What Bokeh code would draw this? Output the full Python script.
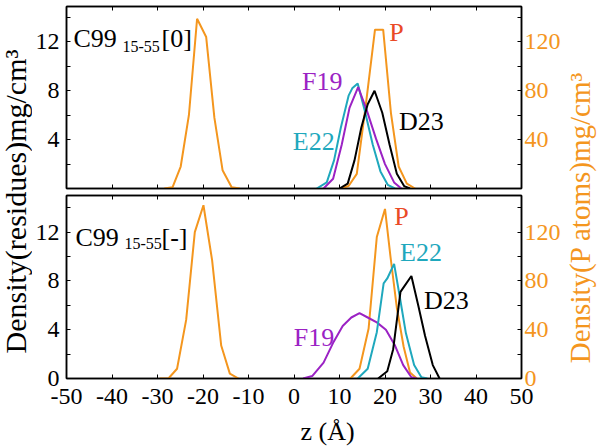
import math
from bokeh.plotting import figure
from bokeh.models import Range1d, LinearAxis, FixedTicker, Label
from bokeh.layouts import row, column
from bokeh.embed import file_html
from bokeh.resources import INLINE

FONT = "Liberation Serif"
ORANGE = "#f4961e"
CYAN = "#1fa8bd"
PURPLE = "#9b22c4"
BLACK = "#000000"
PRED = "#ea4a26"

# ---------------- data ----------------
x_ticks = [-50, -40, -30, -20, -10, 0, 10, 20, 30, 40, 50]

# top panel  C99(15-55)[0]
top_p_left_z = [-28.5, -26.7, -24.9, -23.1, -21.3, -19.3, -17.5, -15.7, -13.7, -11.9]
top_p_left_v = [0, 1, 18, 60, 139, 124, 58, 15, 1, 0]
top_p_right_z = [10.2, 12.0, 13.8, 15.9, 17.8, 19.6, 21.3, 23.0, 24.8, 26.6]
top_p_right_v = [0, 2, 12, 72, 130, 130, 62, 18, 4, 0]
top_e22_z = [5.0, 7.2, 8.8, 10.3, 12.0, 12.8, 14.0, 15.6, 17.3, 19.0, 20.6, 22.2]
top_e22_v = [0, 0.5, 2.3, 5.0, 7.6, 8.2, 8.6, 6.3, 3.6, 1.4, 0.3, 0]
top_f19_z = [6.5, 8.6, 10.5, 12.2, 14.1, 16.0, 18.0, 20.0, 22.0, 23.6]
top_f19_v = [0, 0.8, 3.6, 6.6, 8.3, 6.4, 4.1, 2.0, 0.5, 0]
top_d23_z = [10.0, 11.8, 13.3, 14.8, 16.2, 17.7, 19.4, 21.0, 22.6, 24.2, 25.5]
top_d23_v = [0, 0.4, 2.3, 5.0, 6.9, 8.0, 6.2, 3.6, 1.2, 0.2, 0]

# bottom panel  C99(15-55)[-]
bot_p_left_z = [-29.5, -27.6, -25.7, -23.7, -21.8, -19.9, -18.0, -16.0, -14.1, -12.2]
bot_p_left_v = [0, 0, 8, 48, 120, 142, 97, 27, 4, 0]
bot_p_right_z = [12.4, 14.4, 16.4, 18.2, 20.0, 21.2, 22.6, 24.1, 25.5, 27.0]
bot_p_right_v = [0, 8, 41, 116, 139, 100, 58, 26, 5, 0]
bot_e22_z = [14.0, 16.2, 18.2, 19.7, 20.5, 22.0, 23.2, 24.6, 26.4, 28.0, 29.3]
bot_e22_v = [0, 0.8, 3.8, 7.8, 8.2, 9.4, 6.8, 3.7, 1.1, 0.1, 0]
bot_d23_z = [18.5, 20.5, 21.8, 23.4, 25.8, 27.3, 28.8, 30.5, 32.0]
bot_d23_v = [0, 0.6, 2.4, 7.1, 8.4, 6.0, 3.5, 1.1, 0]
bot_f19_z = [2.0, 4.0, 6.5, 8.7, 10.7, 12.6, 14.4, 16.2, 18.2, 20.2, 22.2, 24.0, 25.8, 27.0]
bot_f19_v = [0, 0.2, 1.3, 3.0, 4.3, 5.0, 5.35, 5.0, 4.6, 4.0, 2.7, 1.1, 0.1, 0]

left_ticks_top = [4, 8, 12]
left_ticks_bot = [0, 4, 8, 12]
left_minor = [2, 6, 10, 14]
right_ticks_top = [40, 80, 120]
right_ticks_bot = [0, 40, 80, 120]
right_minor = [20, 60, 100, 140]
x_tick_labels = {t: str(t) for t in x_ticks}

TICK_FS = "24px"
LAB_FS = "26px"
MAIN_W = 531


def make_panel(height, top_b, bot_b, y_end, p_end, lticks, rticks, show_x):
    p = figure(width=MAIN_W, height=height, x_range=Range1d(-50, 50),
               y_range=Range1d(0, y_end), output_backend="svg",
               toolbar_location=None, x_axis_location=None, y_axis_location=None,
               min_border_left=31, min_border_right=40,
               min_border_top=top_b, min_border_bottom=bot_b)
    p.extra_y_ranges = {"p": Range1d(0, p_end)}
    p.grid.visible = False
    p.outline_line_color = BLACK
    p.outline_line_width = 1.5
    p.background_fill_color = "white"
    p.border_fill_color = "white"

    def style(ax, labels=True):
        ax.axis_line_color = BLACK
        ax.axis_line_width = 1.5
        ax.major_tick_in = 4
        ax.major_tick_out = 0
        ax.minor_tick_in = 4
        ax.minor_tick_out = 0
        ax.major_tick_line_color = BLACK
        ax.minor_tick_line_color = BLACK
        ax.major_label_text_font = FONT
        if labels:
            ax.major_label_text_font_size = TICK_FS
            ax.major_label_text_color = BLACK
        else:
            ax.major_label_text_font_size = "1px"
            ax.major_label_text_color = None
            ax.major_label_standoff = 0

    left = LinearAxis(ticker=FixedTicker(ticks=lticks, minor_ticks=left_minor))
    style(left)
    left.major_label_standoff = 7
    p.add_layout(left, "left")

    right = LinearAxis(y_range_name="p",
                       ticker=FixedTicker(ticks=rticks, minor_ticks=right_minor))
    style(right)
    right.major_label_standoff = 3
    right.major_label_text_color = ORANGE
    p.add_layout(right, "right")

    below = LinearAxis(ticker=FixedTicker(ticks=x_ticks),
                       major_label_overrides=x_tick_labels)
    style(below, labels=show_x)
    if show_x:
        below.major_label_standoff = 10
    p.add_layout(below, "below")

    above = LinearAxis(ticker=FixedTicker(ticks=x_ticks))
    style(above, labels=False)
    p.add_layout(above, "above")
    return p


def add_label(p, x, y, text, color, size=LAB_FS, xu="data", yu="data",
              align="center", baseline="middle"):
    p.add_layout(Label(x=x, y=y, x_units=xu, y_units=yu, text=text,
                       text_font=FONT, text_font_size=size, text_color=color,
                       text_align=align, text_baseline=baseline))


# ---------------- top panel ----------------
top = make_panel(191, 6, 3, 14.9, 149.0, left_ticks_top, right_ticks_top, False)
top.line(top_p_left_z, top_p_left_v, y_range_name="p", line_color=ORANGE, line_width=2)
top.line(top_p_right_z, top_p_right_v, y_range_name="p", line_color=ORANGE, line_width=2)
top.line(top_e22_z, top_e22_v, line_color=CYAN, line_width=2)
top.line(top_f19_z, top_f19_v, line_color=PURPLE, line_width=2)
top.line(top_d23_z, top_d23_v, line_color=BLACK, line_width=2)
add_label(top, 22.5, 12.8, "P", PRED)
add_label(top, 6.2, 8.8, "F19", PURPLE)
add_label(top, 4.35, 3.85, "E22", CYAN)
add_label(top, 28.0, 5.5, "D23", BLACK)
add_label(top, 7, 150, "C99", BLACK, "26px", "screen", "screen", "left", "alphabetic")
add_label(top, 56, 142, "15-55", BLACK, "16px", "screen", "screen", "left", "alphabetic")
add_label(top, 95, 150, "[0]", BLACK, "26px", "screen", "screen", "left", "alphabetic")

# ---------------- bottom panel ----------------
bot = make_panel(225, 4, 38, 15.0, 150.0, left_ticks_bot, right_ticks_bot, True)
bot.line(bot_p_left_z, bot_p_left_v, y_range_name="p", line_color=ORANGE, line_width=2)
bot.line(bot_p_right_z, bot_p_right_v, y_range_name="p", line_color=ORANGE, line_width=2)
bot.line(bot_f19_z, bot_f19_v, line_color=PURPLE, line_width=2)
bot.line(bot_e22_z, bot_e22_v, line_color=CYAN, line_width=2)
bot.line(bot_d23_z, bot_d23_v, line_color=BLACK, line_width=2)
add_label(bot, 23.6, 13.3, "P", PRED)
add_label(bot, 27.9, 10.3, "E22", CYAN)
add_label(bot, 33.5, 6.4, "D23", BLACK)
add_label(bot, 4.4, 3.4, "F19", PURPLE)
add_label(bot, 9, 141, "C99", BLACK, "26px", "screen", "screen", "left", "alphabetic")
add_label(bot, 58, 135, "15-55", BLACK, "16px", "screen", "screen", "left", "alphabetic")
add_label(bot, 95, 141, "[-]", BLACK, "26px", "screen", "screen", "left", "alphabetic")


def text_fig(width, height, x, y, text, color, size, angle=0.0):
    f = figure(width=width, height=height, x_range=Range1d(0, 1), y_range=Range1d(0, 1),
               output_backend="svg", toolbar_location=None,
               x_axis_location=None, y_axis_location=None,
               min_border=0, min_border_left=0, min_border_right=0,
               min_border_top=0, min_border_bottom=0)
    f.grid.visible = False
    f.outline_line_color = None
    f.add_layout(Label(x=x, y=y, x_units="screen", y_units="screen", text=text,
                       angle=angle, text_font=FONT, text_font_size=size,
                       text_color=color, text_align="center",
                       text_baseline="middle"))
    return f


# x-axis title strip under the bottom panel (frame centre at x = 31 + 230)
xlab = text_fig(MAIN_W, 30, 261, 15, "z (\u00c5)", BLACK, "26px")
left_lab = text_fig(32, 446, 15, 245, "Density(residues)mg/cm\u00b3", BLACK, "30px", math.pi / 2)
right_lab = text_fig(37, 446, 16, 229, "Density(P atoms)mg/cm\u00b3", ORANGE, "29px", math.pi / 2)

layout = row(left_lab, column(top, bot, xlab, spacing=0), right_lab, spacing=0)

open("out.html", "w").write(file_html(layout, INLINE))
